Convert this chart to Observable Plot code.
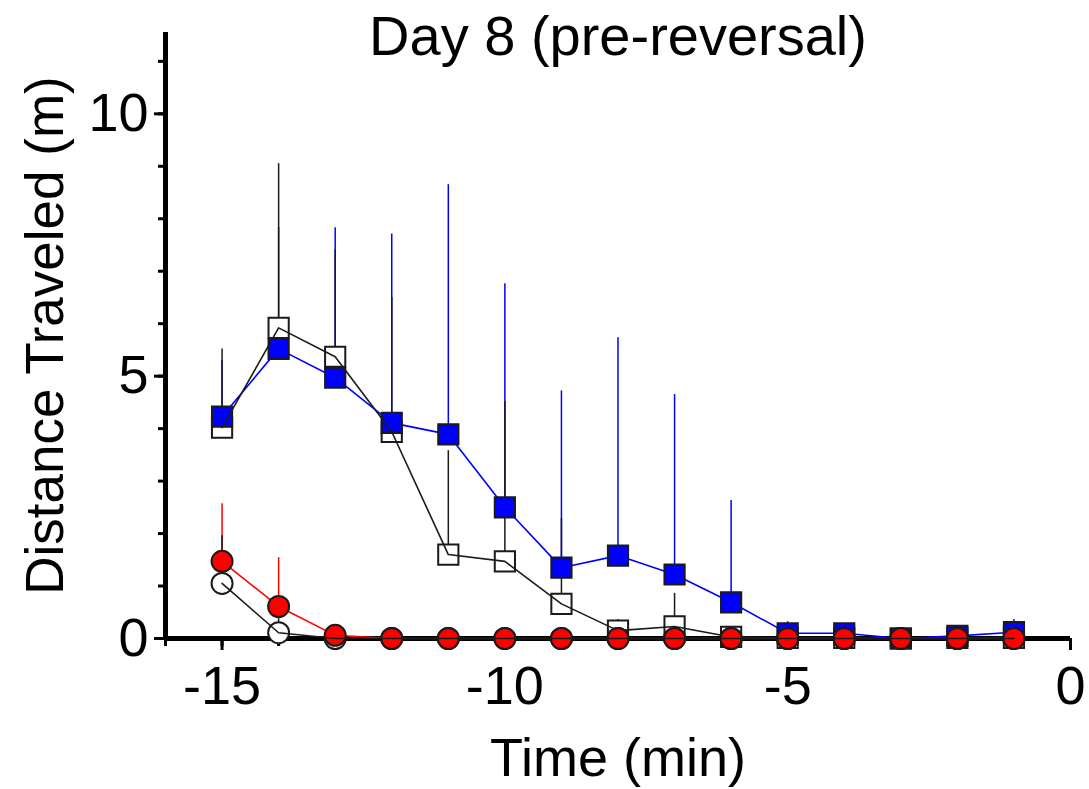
<!DOCTYPE html>
<html>
<head>
<meta charset="utf-8">
<script src="https://cdn.jsdelivr.net/npm/d3@7"></script>
<script src="https://cdn.jsdelivr.net/npm/@observablehq/plot@0.6"></script>
<style>
  html, body { margin: 0; padding: 0; background: #fff; }
  #chart svg { display: block; }
</style>
</head>
<body>
<div id="chart"></div>
<script>
const time = [-15, -14, -13, -12, -11, -10, -9, -8, -7, -6, -5, -4, -3, -2, -1];

// Blue filled squares
const blueMean = [4.23, 5.52, 4.97, 4.11, 3.89, 2.50, 1.35, 1.58, 1.22, 0.69, 0.10, 0.10, 0.00, 0.05, 0.12];
const blueTop  = [5.30, 7.83, 7.83, 7.71, 8.65, 6.76, 4.72, 5.73, 4.65, 2.63, 0.32, 0.15, 0.02, 0.10, 0.36];

// Black open squares
const sqMean = [4.02, 5.92, 5.37, 3.94, 1.60, 1.47, 0.66, 0.15, 0.23, 0.03, 0.01, 0.01, 0.00, 0.01, 0.01];
const sqTop  = [5.52, 9.05, 7.41, 6.50, 3.58, 4.51, 2.29, 0.36, 0.86, 0.05, 0.02, 0.02, 0.00, 0.02, 0.02];

// Red filled circles
const redMean = [1.47, 0.61, 0.06, 0, 0, 0, 0, 0, 0, 0, 0, 0, 0, 0, 0];
const redTop  = [2.57, 1.54, 0.12, 0, 0, 0, 0, 0, 0, 0, 0, 0, 0, 0, 0];

// Black open circles
const circMean = [1.05, 0.11, 0.00, 0, 0, 0, 0, 0, 0, 0, 0, 0, 0, 0, 0];
const circTop  = [1.96, 0.55, 0.02, 0, 0, 0, 0, 0, 0, 0, 0, 0, 0, 0, 0];

const xMajor = [-15, -10, -5, 0];
const yMajor = [0, 5, 10];
const xMinor = d3.range(-16, 1);
const yMinor = d3.range(0, 12);

const title = "Day 8 (pre-reversal)";
const xLabel = "Time (min)";
const yLabel = "Distance Traveled (m)";

const mk = (m, t) => time.map((x, i) => ({x, v: m[i], top: t[i]}));
const blue = mk(blueMean, blueTop);
const sq = mk(sqMean, sqTop);
const red = mk(redMean, redTop);
const circ = mk(circMean, circTop);

const FONT = 54;
const dark = "#1a1a1a";

const chart = Plot.plot({
  width: 1089,
  height: 789,
  marginLeft: 165,
  marginRight: 19,
  marginTop: 32,
  marginBottom: 151,
  style: {fontFamily: "'Liberation Sans', Arial, Helvetica, sans-serif", background: "#fff", color: "#000"},
  x: {domain: [-16, 0], label: null},
  y: {domain: [0, 11.55], label: null},
  marks: [
    // axes
    Plot.axisY({ticks: yMinor, tickSize: 7, text: null, label: null, strokeWidth: 3, stroke: "#000"}),
    Plot.axisY({ticks: yMajor, tickSize: 11, tickPadding: 6, label: null, strokeWidth: 3, stroke: "#000", fontSize: FONT, tickFormat: d => String(d)}),
    Plot.axisX({ticks: xMinor, tickSize: 8, text: null, label: null, strokeWidth: 3, stroke: "#000"}),
    Plot.axisX({ticks: xMajor, tickSize: 12, tickPadding: 15, label: null, strokeWidth: 3, stroke: "#000", fontSize: FONT, tickFormat: d => String(d)}),
    Plot.ruleX([-16], {strokeWidth: 5, stroke: "#000"}),
    Plot.ruleY([0], {strokeWidth: 5, stroke: "#000"}),

    // squares group
    Plot.ruleX(blue, {x: "x", y1: "v", y2: "top", stroke: "#0000ff", strokeWidth: 1.5}),
    Plot.ruleX(sq, {x: "x", y1: "v", y2: "top", stroke: dark, strokeWidth: 1.5}),
    Plot.dot(sq, {x: "x", y: "v", symbol: "square", r: 11.4, fill: "#fff", stroke: dark, strokeWidth: 2}),
    Plot.line(blue, {x: "x", y: "v", stroke: "#0000ff", strokeWidth: 1.6}),
    Plot.dot(blue, {x: "x", y: "v", symbol: "square", r: 11.4, fill: "#0000ff", stroke: dark, strokeWidth: 2}),
    Plot.line(sq, {x: "x", y: "v", stroke: dark, strokeWidth: 1.6}),

    // circles group
    Plot.ruleX(red, {x: "x", y1: "v", y2: "top", stroke: "#ff0000", strokeWidth: 1.5}),
    Plot.ruleX(circ, {x: "x", y1: "v", y2: "top", stroke: dark, strokeWidth: 1.5}),
    Plot.dot(circ, {x: "x", y: "v", r: 10.5, fill: "#fff", stroke: dark, strokeWidth: 2}),
    Plot.line(red, {x: "x", y: "v", stroke: "#ff0000", strokeWidth: 1.6}),
    Plot.dot(red, {x: "x", y: "v", r: 10.5, fill: "#ff0000", stroke: dark, strokeWidth: 2}),
    Plot.line(circ, {x: "x", y: "v", stroke: dark, strokeWidth: 1.6}),

    // texts
    Plot.text([title], {frameAnchor: "top", dy: 22, lineAnchor: "bottom", fontSize: FONT + 2, fill: "#000"}),
    Plot.text([xLabel], {frameAnchor: "bottom", dy: 137, lineAnchor: "bottom", fontSize: FONT, fill: "#000"}),
    Plot.text([yLabel], {frameAnchor: "left", dx: -119, rotate: -90, textAnchor: "middle", lineAnchor: "middle", fontSize: FONT - 1, fill: "#000"})
  ]
});

document.getElementById("chart").appendChild(chart);
</script>
</body>
</html>
